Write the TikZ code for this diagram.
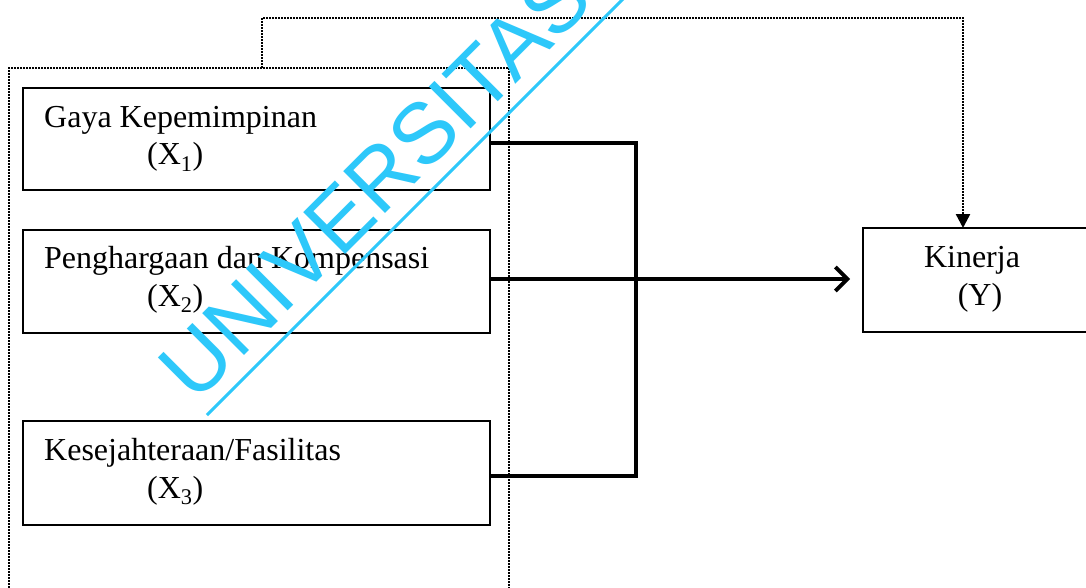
\documentclass[tikz,border=0pt]{standalone}
\usepackage{fontspec}
\setmainfont{Liberation Serif}
\newfontfamily\wmfont{Liberation Sans}
\usetikzlibrary{arrows.meta}
\definecolor{wmcyan}{RGB}{45,200,250}
\begin{document}
\begin{tikzpicture}[x=1pt,y=-1pt,
  varbox/.style={draw, line width=2.4pt, anchor=north west, inner sep=0pt, outer sep=0pt},
  dotbox/.style={draw, line width=2.4pt, dash pattern=on 2pt off 1pt, anchor=north west, inner sep=0pt, outer sep=0pt},
  dotline/.style={line width=2.4pt, dash pattern=on 2pt off 1pt},
  conn/.style={line width=3.8pt},
  lbl/.style={inner sep=0pt, anchor=base west, font=\fontsize{32}{38}\selectfont},
  clbl/.style={inner sep=0pt, anchor=base, font=\fontsize{32}{38}\selectfont},
  wm/.style={inner sep=0pt, anchor=base west, text=wmcyan, font=\wmfont\fontsize{86}{100}\selectfont}
]
\fill[white] (0,0) rectangle (1086,588);
\useasboundingbox (0,0) rectangle (1086,588);

% group box (dotted)
\node[dotbox, minimum width=500pt, minimum height=540pt] (grp) at (9,68) {};

% variable boxes
\node[varbox, minimum width=467pt, minimum height=102pt] (b1) at (23,88) {};
\node[varbox, minimum width=467pt, minimum height=103pt] (b2) at (23,230) {};
\node[varbox, minimum width=467pt, minimum height=104pt] (b3) at (23,421) {};
\node[varbox, minimum width=225pt, minimum height=104pt] (ky) at (863,228) {};

% labels
\node[lbl] (t1a) at (44,128) {Gaya Kepemimpinan};
\node[lbl] (t1b) at (147,165) {(X\textsubscript{1})};
\node[lbl] (t2a) at (44,268) {Penghargaan dan Kompensasi};
\node[lbl] (t2b) at (147,306) {(X\textsubscript{2})};
\node[lbl] (t3a) at (44,460) {Kesejahteraan/Fasilitas};
\node[lbl] (t3b) at (147,498) {(X\textsubscript{3})};
\node[clbl] (tya) at (972,267) {Kinerja};
\node[clbl] (tyb) at (980,305) {(Y)};

% solid connectors
\coordinate (jt) at (636,143);
\coordinate (jb) at (636,476);
\draw[conn, line join=miter] (b1.east |- jt) -- (jt) -- (jb) -- (b3.east |- jb);
\draw[conn, -{Straight Barb[length=12pt,width=24pt]}, shorten >=13pt] (b2.east |- 0,279) -- (ky.west |- 0,279);

% dotted feedback connector
\coordinate (d1) at (262,18);
\coordinate (d2) at (963,18);
\draw[dotline, -{Triangle[length=14pt,width=14pt]}] (d1 |- grp.north) -- (d1) -- (d2) -- (d2 |- ky.north);

% watermark
\node[wm, rotate=45] (wmtext) at (195,404.5) {UNIVERSITAS};
\draw[wmcyan, line width=3pt] (207,415) -- (650,-28);
\end{tikzpicture}
\end{document}
